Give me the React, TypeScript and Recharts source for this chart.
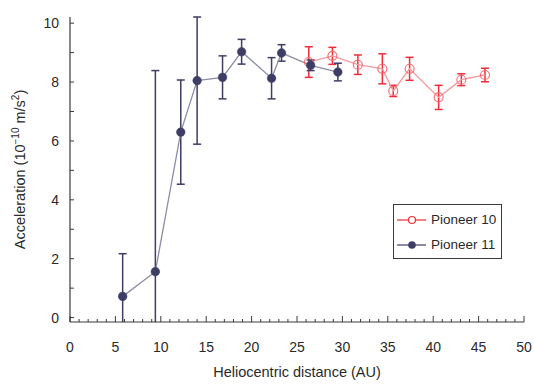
import { LineChart, Line, XAxis, YAxis, ErrorBar, Legend, Label } from "recharts";

// Pioneer 10 (open red circles)
const p10Dist = [26.3, 28.9, 31.7, 34.4, 35.6, 37.4, 40.6, 43.1, 45.7];
const p10Accel = [8.68, 8.89, 8.59, 8.45, 7.7, 8.45, 7.48, 8.08, 8.24];
const p10Err = [0.52, 0.29, 0.33, 0.51, 0.19, 0.39, 0.41, 0.2, 0.23];

// Pioneer 11 (filled navy dots)
const p11Dist = [5.8, 9.4, 12.2, 14.0, 16.8, 18.9, 22.2, 23.3, 26.5, 29.5];
const p11Accel = [0.72, 1.56, 6.3, 8.05, 8.16, 9.03, 8.13, 8.99, 8.57, 8.34];
const p11Err = [1.45, 6.83, 1.77, 2.16, 0.73, 0.42, 0.7, 0.28, 0.18, 0.3];

// whiskers that run below zero stop just under the axis, without a cap
const whiskerFloor = -0.15;

const xTicks = Array.from({ length: 51 }, (_, i) => i);
const yTicks = Array.from({ length: 11 }, (_, i) => i);

const seriesNames = ["Pioneer 10", "Pioneer 11"];

const font = "'Liberation Sans', Arial, sans-serif";
const axisColor = "#3a3a3a";
const textColor = "#2a2a2a";
const red = "#ee2d38";
const redLine = "#f39a9c";
const redDot = "#f26a70";
const navy = "#3d3d65";
const navyLine = "#8c8ca6";

function buildRows(dist: number[], accel: number[], err: number[]) {
  return dist.map((d, i) => {
    const low = accel[i] - err[i];
    const offAxis = low < 0;
    return {
      dist: d,
      accel: accel[i],
      errCap: offAxis ? [0, err[i]] : [err[i], err[i]],
      errTail: offAxis ? [accel[i] - whiskerFloor, 0] : undefined,
    };
  });
}

const p10Rows = buildRows(p10Dist, p10Accel, p10Err);
const p11Rows = buildRows(p11Dist, p11Accel, p11Err);

function XTick(props: any) {
  const { x, y, payload } = props;
  const v = payload.value;
  const major = v % 5 === 0;
  return (
    <g>
      <line x1={x} x2={x} y1={y} y2={y - (major ? 6 : 3)} stroke={axisColor} strokeWidth={1} />
      {major && (
        <text x={x} y={y + 25} dy="0.355em" textAnchor="middle" fontSize={14} fontFamily={font} fill={textColor}>
          {v}
        </text>
      )}
    </g>
  );
}

function YTick(props: any) {
  const { x, y, payload } = props;
  const v = payload.value;
  return (
    <g>
      <line x1={x} x2={x + 4} y1={y} y2={y} stroke={axisColor} strokeWidth={1} />
      {v % 2 === 0 && (
        <text x={x - 11} y={y} dy="0.355em" textAnchor="end" fontSize={14} fontFamily={font} fill={textColor}>
          {v}
        </text>
      )}
    </g>
  );
}

function YTitle(props: any) {
  const { viewBox } = props;
  const cx = 20;
  const cy = viewBox.y + viewBox.height / 2;
  return (
    <text
      x={cx}
      y={cy}
      dy="0.355em"
      textAnchor="middle"
      transform={`rotate(-90 ${cx} ${cy})`}
      fontSize={14.5}
      fontFamily={font}
      fill={textColor}
    >
      Acceleration (10
      <tspan dy={-6} fontSize={10}>−10</tspan>
      <tspan dy={6}> m/s</tspan>
      <tspan dy={-6} fontSize={10}>2</tspan>
      <tspan dy={6}>)</tspan>
    </text>
  );
}

function XTitle(props: any) {
  const { viewBox } = props;
  return (
    <text
      x={viewBox.x + viewBox.width / 2}
      y={viewBox.y + 50}
      dy="0.355em"
      textAnchor="middle"
      fontSize={14.5}
      fontFamily={font}
      fill={textColor}
    >
      Heliocentric distance (AU)
    </text>
  );
}

function LegendBox() {
  return (
    <div
      style={{
        border: `1px solid ${axisColor}`,
        background: "#fff",
        padding: "4px 0 3px 3px",
        boxSizing: "border-box",
        width: 109,
        fontFamily: font,
        fontSize: 13.5,
        color: textColor,
      }}
    >
      {seriesNames.map((name, i) => (
        <div key={name} style={{ display: "flex", alignItems: "center", height: 21, marginTop: i === 0 ? 0 : 4 }}>
          <svg width={30} height={12} style={{ marginRight: 4, flexShrink: 0 }}>
            <line x1={0} x2={29} y1={6} y2={6} stroke={i === 0 ? red : navy} strokeWidth={1.2} />
            {i === 0 ? (
              <circle cx={15} cy={6} r={3.5} fill="#fff" stroke={red} strokeWidth={1.2} />
            ) : (
              <circle cx={15} cy={6} r={3.8} fill={navy} />
            )}
          </svg>
          <span style={{ whiteSpace: "nowrap" }}>{name}</span>
        </div>
      ))}
    </div>
  );
}

export default function App() {
  return (
    <div style={{ position: "absolute", left: 0, top: 0, background: "#fff" }}>
      <LineChart width={534} height={386} margin={{ top: 17, right: 10, bottom: 0, left: 0 }}>
        <XAxis
          dataKey="dist"
          type="number"
          domain={[() => 0, () => 50]}
          ticks={xTicks}
          interval={0}
          height={64}
          tickSize={0}
          tickMargin={0}
          tick={<XTick />}
          axisLine={{ stroke: axisColor, strokeWidth: 1.2 }}
        >
          <Label content={<XTitle />} />
        </XAxis>
        <YAxis
          type="number"
          domain={[() => 0, () => 10]}
          ticks={yTicks}
          interval={0}
          width={70}
          tickSize={0}
          tickMargin={0}
          tick={<YTick />}
          axisLine={{ stroke: axisColor, strokeWidth: 1.2 }}
        >
          <Label content={<YTitle />} />
        </YAxis>
        <Legend
          layout="horizontal"
          verticalAlign="middle"
          align="center"
          content={<LegendBox />}
          wrapperStyle={{ left: 393, top: 204, width: 109 }}
        />
        <Line
          name={seriesNames[0]}
          data={p10Rows}
          dataKey="accel"
          stroke={redLine}
          strokeWidth={1.3}
          dot={{ r: 4.5, fill: "none", stroke: redDot, strokeWidth: 1.1 }}
          activeDot={false}
          isAnimationActive={false}
        >
          <ErrorBar dataKey="errCap" direction="y" width={4} stroke={red} strokeWidth={1.5} />
        </Line>
        <Line
          name={seriesNames[1]}
          data={p11Rows}
          dataKey="accel"
          stroke={navyLine}
          strokeWidth={1.3}
          dot={{ r: 4.3, fill: navy, stroke: navy, strokeWidth: 0.5 }}
          activeDot={false}
          isAnimationActive={false}
        >
          <ErrorBar dataKey="errCap" direction="y" width={4} stroke={navy} strokeWidth={1.5} />
          <ErrorBar dataKey="errTail" direction="y" width={0} stroke={navy} strokeWidth={1.5} />
        </Line>
      </LineChart>
    </div>
  );
}
